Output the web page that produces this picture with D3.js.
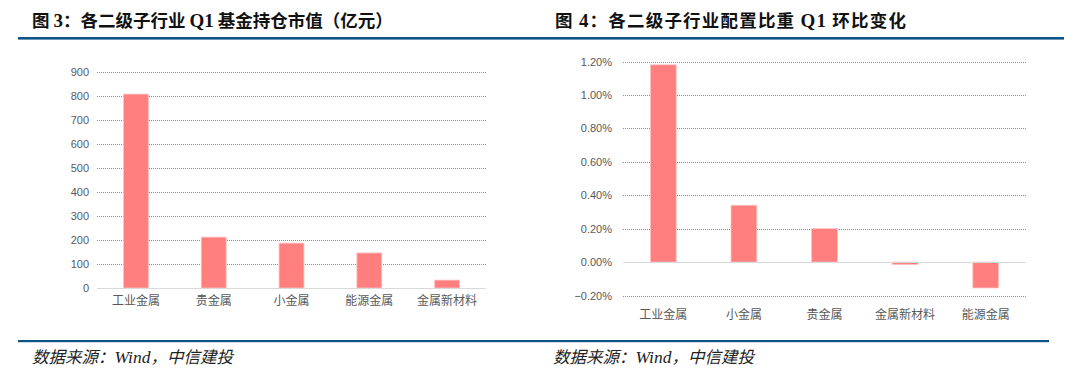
<!DOCTYPE html>
<html>
<head>
<meta charset="utf-8">
<script src="https://cdn.jsdelivr.net/npm/d3@7"></script>
<style>
  body { margin: 0; background: #fff; }
  svg { display: block; }
</style>
</head>
<body>
<div id="chart"></div>
<script>
// Figure 3: fund holdings by sub-industry, Q1 (100m yuan)
var holdCats = ["工业金属", "贵金属", "小金属", "能源金属", "金属新材料"];
var holdVals = [808, 212, 187, 146, 33];
var holdTicks = [0, 100, 200, 300, 400, 500, 600, 700, 800, 900];

// Figure 4: weight change q/q (%)
var chgCats = ["工业金属", "小金属", "贵金属", "金属新材料", "能源金属"];
var chgVals = [1.18, 0.34, 0.20, -0.015, -0.155];
var chgTicks = [-0.2, 0, 0.2, 0.4, 0.6, 0.8, 1.0, 1.2];

var W = 1080, H = 377;
var barColor = "#ff7f7f";
var cjk = "'Noto Sans CJK SC', 'Noto Sans', sans-serif";

var svg = d3.select("#chart").append("svg")
    .attr("width", W)
    .attr("height", H);

// rules
svg.append("rect").attr("x", 18).attr("y", 37).attr("width", 1046).attr("height", 2.6).attr("fill", "#0e5387");
svg.append("rect").attr("x", 18).attr("y", 340).attr("width", 1031).attr("height", 2.2).attr("fill", "#0e5387");

// titles
function title(x, spacing, parts) {
    var t = svg.append("text")
        .attr("x", x).attr("y", 27)
        .attr("font-size", "17.5px")
        .attr("font-weight", "bold")
        .attr("fill", "#111")
        .attr("letter-spacing", spacing)
        .attr("font-family", cjk);
    parts.forEach(function(p) {
        t.append("tspan")
            .attr("font-family", p.serif ? "'Liberation Serif', serif" : cjk)
            .attr("font-size", p.serif ? "19px" : "17.5px")
            .text(p.t);
    });
}
title(32, 0, [{t: "图 "}, {t: "3", serif: true}, {t: "：各二级子行业 "}, {t: "Q1", serif: true}, {t: " 基金持仓市值（亿元）"}]);
title(555, 1.2, [{t: "图 "}, {t: "4", serif: true}, {t: "：各二级子行业配置比重 "}, {t: "Q1", serif: true}, {t: " 环比变化"}]);

// sources
function source(x) {
    var t = svg.append("text")
        .attr("x", x).attr("y", 363)
        .attr("font-size", "16.5px")
        .attr("font-style", "italic")
        .attr("fill", "#222")
        .attr("font-family", cjk);
    t.append("tspan").text("数据来源：");
    t.append("tspan").attr("font-family", "'Liberation Serif', serif").attr("font-size", "17.5px").text("Wind");
    t.append("tspan").text("，中信建投");
}
source(32);
source(553);

function barChart(opt) {
    var x = d3.scaleBand()
        .domain(opt.cats)
        .range([opt.x0, opt.x1])
        .paddingInner(0.68)
        .paddingOuter(0.34);
    var y = d3.scaleLinear()
        .domain(opt.domain)
        .range([opt.yb, opt.yt]);

    var g = svg.append("g");

    // gridlines
    g.selectAll(".grid")
        .data(opt.ticks.filter(function(d) { return d !== 0; }))
        .join("line")
        .attr("x1", opt.x0).attr("x2", opt.x1)
        .attr("y1", function(d) { return Math.round(y(d)) + 0.5; })
        .attr("y2", function(d) { return Math.round(y(d)) + 0.5; })
        .attr("stroke", "#8c8c8c")
        .attr("stroke-width", 1)
        .attr("stroke-dasharray", "1,1");

    // tick labels
    var yAxis = d3.axisLeft(y).tickValues(opt.ticks).tickSize(0).tickPadding(0).tickFormat(opt.fmt);
    var ya = g.append("g")
        .attr("transform", "translate(" + opt.labelX + ",0)")
        .call(yAxis);
    ya.select(".domain").remove();
    ya.selectAll("text")
        .attr("font-family", "'Liberation Sans', Arial, sans-serif")
        .attr("font-size", "11px")
        .attr("fill", "#595959");

    // bars
    g.selectAll(".bar")
        .data(opt.vals)
        .join("rect")
        .attr("x", function(d, i) { return x(opt.cats[i]); })
        .attr("width", x.bandwidth())
        .attr("y", function(d) { return y(Math.max(0, d)); })
        .attr("height", function(d) { return Math.abs(y(d) - y(0)); })
        .attr("fill", barColor)
        .attr("stroke", "#ffc2c2")
        .attr("stroke-width", 0.8);

    // zero line
    g.append("line")
        .attr("x1", opt.x0).attr("x2", opt.x1)
        .attr("y1", Math.round(y(0)) + 0.5).attr("y2", Math.round(y(0)) + 0.5)
        .attr("stroke", "#d9d9d9")
        .attr("stroke-width", 1.2);

    // category labels
    g.selectAll(".cat")
        .data(opt.cats)
        .join("text")
        .attr("x", function(d) { return x(d) + x.bandwidth() / 2; })
        .attr("y", opt.catY)
        .attr("text-anchor", "middle")
        .attr("font-family", cjk)
        .attr("font-size", "12px")
        .attr("fill", "#595959")
        .text(function(d) { return d; });
}

barChart({
    cats: holdCats, vals: holdVals, ticks: holdTicks,
    domain: [0, 900], yb: 288, yt: 72,
    x0: 97, x1: 486, labelX: 89, catY: 305,
    fmt: d3.format("d")
});

barChart({
    cats: chgCats, vals: chgVals, ticks: chgTicks,
    domain: [-0.2, 1.2], yb: 295.5, yt: 61.5,
    x0: 623, x1: 1026, labelX: 612, catY: 319,
    fmt: function(d) { return d3.format(".2f")(d) + "%"; }
});
</script>
</body>
</html>
